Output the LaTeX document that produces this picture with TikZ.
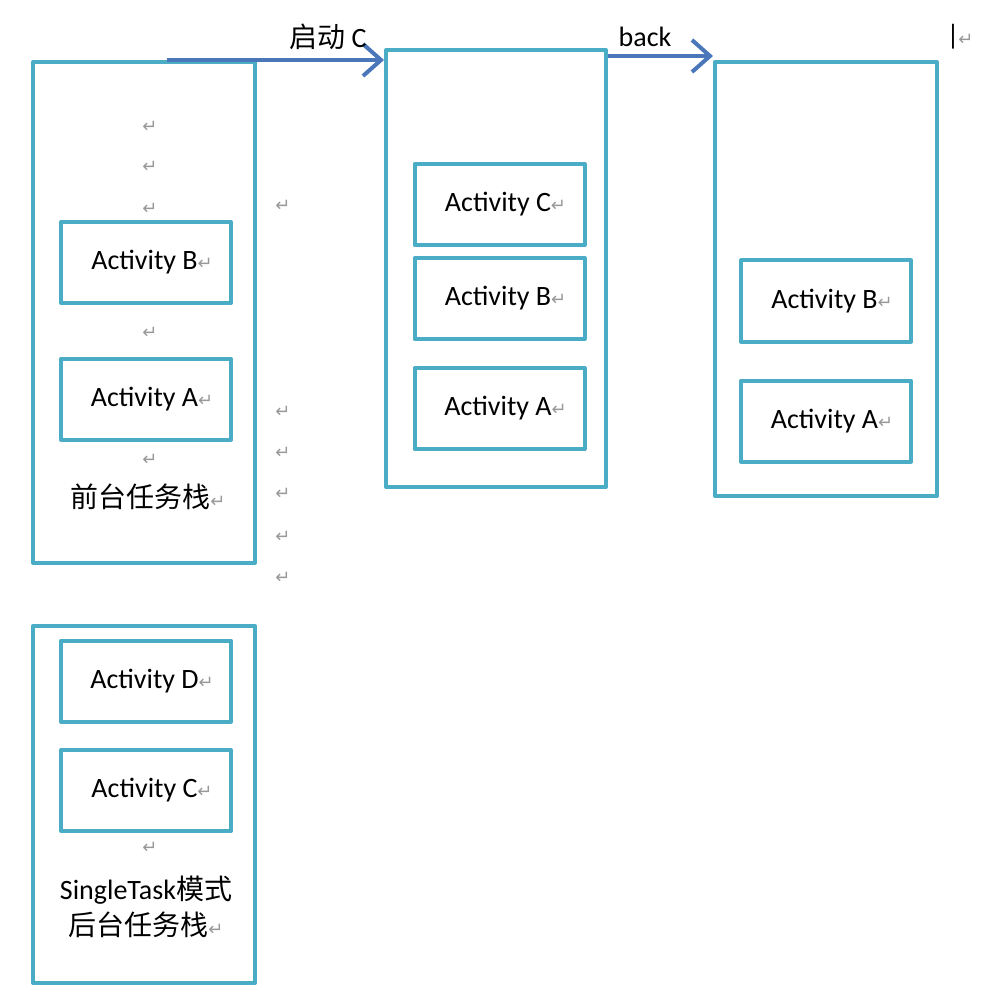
\documentclass[tikz,border=0pt]{standalone}
\usepackage{fontspec}
\setmainfont{Carlito}
\newfontfamily\cjk{Noto Sans CJK SC}
\newfontfamily\retfont{DejaVu Sans}
\usepackage{tikz}
\usetikzlibrary{arrows.meta}
\usepackage{xcolor}

\definecolor{stackblue}{HTML}{4BACC6}
\definecolor{arrowblue}{HTML}{4A76BA}
\newcommand{\parmark}{{\retfont\color{gray!80}\fontsize{9}{9}\selectfont ↵}}

\begin{document}
\begin{tikzpicture}[x=0.5pt, y=-0.5pt,
  txt/.style={font=\fontsize{14}{17}\selectfont, inner sep=0pt},
  stack/.style={draw=stackblue, line width=2pt, line join=round, minimum width=111pt, inner sep=0pt},
  act/.style={draw=stackblue, line width=2pt, line join=round, minimum width=85pt, minimum height=40.5pt,
    inner sep=0pt, font=\fontsize{14}{17}\selectfont, execute at begin node={\hspace*{6pt}}},
  flow/.style={draw=arrowblue, line width=2pt, -{Straight Barb[length=9pt, width=16pt, line width=2pt]}},
  pmark/.style={inner sep=0pt}]

  \useasboundingbox (0,0) rectangle (988,994);

  % ---- foreground task stack ----
  \node[stack, minimum height=250.5pt] (fg) at (144,312.5) {};
  \node[act] (fgB) at (146,262.5) {Activity B\parmark};
  \node[act] (fgA) at (146,399) {Activity A\parmark};
  \node[txt] (fglabel) at (148,497) {\cjk 前台任务栈\parmark};

  % ---- after starting C ----
  \node[stack, minimum width=110pt, minimum height=218.5pt] (mid) at (496,268.5) {};
  \node[act] (midC) at (499.5,204.5) {Activity C\parmark};
  \node[act] (midB) at (499.5,298.5) {Activity B\parmark};
  \node[act] (midA) at (499.5,408.5) {Activity A\parmark};

  % ---- after back ----
  \node[stack, minimum height=217pt] (end) at (826,279) {};
  \node[act] (endB) at (826,301) {Activity B\parmark};
  \node[act] (endA) at (826,421) {Activity A\parmark};

  % ---- background task stack (singleTask) ----
  \node[stack, minimum height=178.5pt] (bg) at (144,804.5) {};
  \node[act] (bgD) at (146,681) {Activity D\parmark};
  \node[act] (bgC) at (146,790.5) {Activity C\parmark};
  \node[txt, align=center] (bglabel) at (146,907) {SingleTask{\cjk 模式}\\[1pt]{\cjk 后台任务栈}\parmark};

  % arrows between the stacks
  \coordinate (start) at (167,60);
  \coordinate (backy) at (660,56);
  \draw[flow] (start) -- (start -| mid.west);
  \draw[flow] (backy -| mid.east) -- (backy -| end.west);
  \node[txt] (startlbl) at (328,37) {{\cjk 启动} C};
  \node[txt] (backlbl) at (645,37) {back};

  % paragraph marks
  \foreach \x/\y [count=\i] in {150/127, 150/167, 150/209, 150/333, 150/460, 150/848,
      283/206, 283/412, 283/453, 283/494, 283/537, 283/578, 966/40} {
    \node[pmark] (pm\i) at (\x,\y) {\parmark};
  }
  \node[pmark, font=\fontsize{14}{14}\selectfont] (cursor) at (953,37) {|};

\end{tikzpicture}
\end{document}
